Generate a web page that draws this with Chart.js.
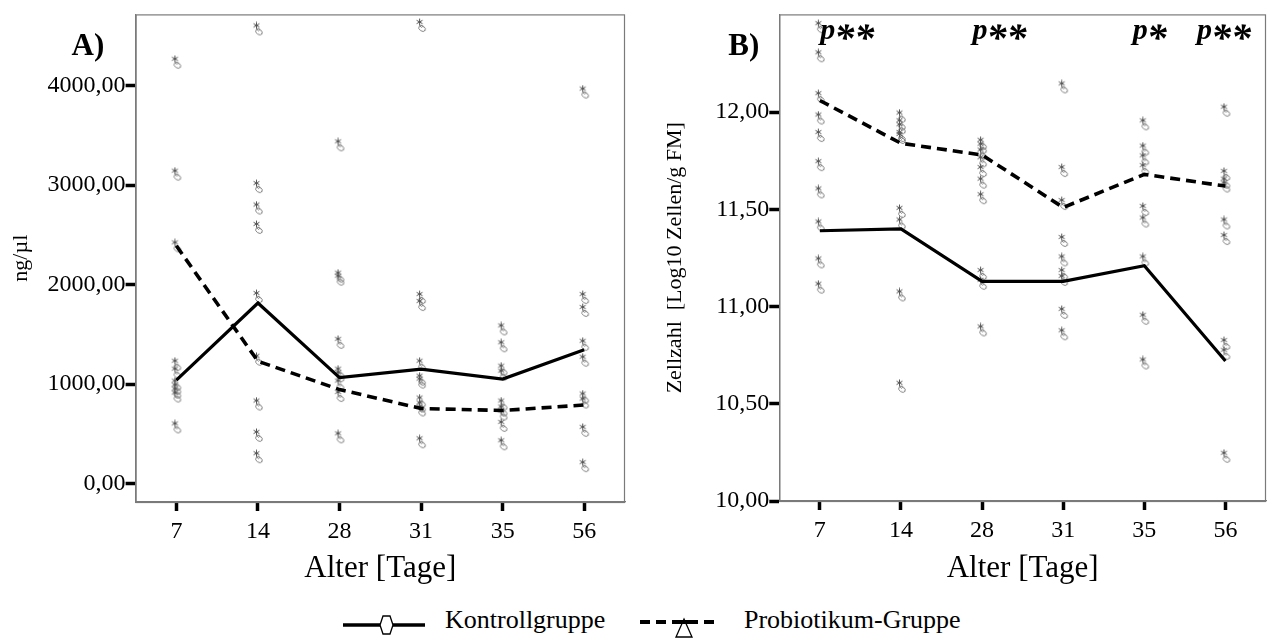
<!DOCTYPE html>
<html><head><meta charset="utf-8">
<script src="https://cdn.jsdelivr.net/npm/chart.js@4.4.1/dist/chart.umd.min.js"></script>
<style>
html,body{margin:0;padding:0;background:#fff;width:1273px;height:639px;overflow:hidden;font-family:'Liberation Serif','Times New Roman',serif;}
#ca{position:absolute;left:0;top:0;}
#cb{position:absolute;left:636px;top:0;}
#legend{position:absolute;left:0;top:600px;width:1273px;height:39px;}
#legend svg{position:absolute;left:0;top:0;}
.lt{position:absolute;top:0;font-size:26px;line-height:39px;color:#000;white-space:nowrap;}
</style></head><body>
<canvas id="ca" width="636" height="600"></canvas>
<canvas id="cb" width="637" height="600"></canvas>
<div id="legend">
<svg width="1273" height="39">
  <line x1="343" y1="25" x2="425" y2="25" stroke="#000" stroke-width="3.5"/>
  <polygon points="383,16 390,16 393,25 390,34 383,34 380,25" fill="#fff" stroke="#000" stroke-width="1.3"/>
  <line x1="640" y1="22" x2="717" y2="22" stroke="#000" stroke-width="4" stroke-dasharray="10,6"/>
  <polygon points="684,19 692,37 676,37" fill="#fff" stroke="#000" stroke-width="1.3"/>
  <line x1="677" y1="22" x2="691" y2="22" stroke="#000" stroke-width="4"/>
</svg>
<span class="lt" style="left:445px">Kontrollgruppe</span>
<span class="lt" style="left:744px">Probiotikum-Gruppe</span>
</div>
<script>
// ---------- data ----------
const categories = ['7', '14', '28', '31', '35', '56'];

// Panel A: ng/µl
const dnaKontroll = [1040, 1815, 1065, 1150, 1050, 1345];
const dnaProbiotikum = [2390, 1230, 945, 755, 735, 790];
const dnaEinzelwerte = [
  [4235, 3110, 2390, 1200, 1120, 1000, 960, 920, 880, 570],
  [4570, 2985, 2770, 2575, 1880, 1250, 800, 485, 270],
  [3405, 2085, 2055, 1420, 1120, 1085, 1000, 885, 470],
  [4605, 1870, 1800, 1200, 1050, 1020, 830, 780, 740, 420],
  [1555, 1385, 1150, 1100, 800, 740, 700, 585, 400],
  [3935, 1870, 1740, 1400, 1240, 870, 820, 535, 180]
];
const dnaTicks = [0, 1000, 2000, 3000, 4000];

// Panel B: Zellzahl [Log10 Zellen/g FM]
const cellKontroll = [11.39, 11.40, 11.13, 11.13, 11.21, 10.72];
const cellProbiotikum = [12.06, 11.84, 11.78, 11.51, 11.68, 11.62];
const cellEinzelwerte = [
  [12.44, 12.29, 12.08, 11.97, 11.88, 11.73, 11.59, 11.42, 11.23, 11.10],
  [11.98, 11.94, 11.92, 11.88, 11.87, 11.49, 11.43, 11.06, 10.59],
  [11.84, 11.82, 11.79, 11.75, 11.70, 11.64, 11.56, 11.17, 11.12, 10.88],
  [12.13, 11.70, 11.53, 11.34, 11.24, 11.17, 11.14, 10.97, 10.86],
  [11.94, 11.81, 11.76, 11.71, 11.50, 11.44, 11.24, 10.94, 10.71],
  [12.01, 11.68, 11.64, 11.62, 11.43, 11.35, 10.81, 10.76, 10.23]
];
const cellTicks = [10, 10.5, 11, 11.5, 12];
const sigLabels = ['p**', '', 'p**', '', 'p*', 'p**'];
const sigOffsets = [28, 0, 18, 0, 6, -1];

// ---------- helpers ----------
const FONT = "'Liberation Serif','Times New Roman',serif";
Chart.defaults.font.family = FONT;
Chart.defaults.color = '#000';

function makeGlyph() {
  const c = document.createElement('canvas');
  c.width = 12; c.height = 15;
  const g = c.getContext('2d');
  g.lineCap = 'round';
  g.strokeStyle = '#555'; g.lineWidth = 1;
  const cx = 4.5, cy = 4, r = 3;
  for (let i = 0; i < 3; i++) {
    const a = Math.PI / 2 + i * Math.PI / 3;
    g.beginPath();
    g.moveTo(cx - r * Math.cos(a), cy - r * Math.sin(a));
    g.lineTo(cx + r * Math.cos(a), cy + r * Math.sin(a));
    g.stroke();
  }
  g.strokeStyle = '#777'; g.lineWidth = 0.9;
  g.beginPath();
  g.ellipse(7, 10.5, 3.6, 2.6, 0.6, 0, Math.PI * 2);
  g.stroke();
  g.beginPath();
  g.moveTo(4.5, 7.5); g.lineTo(6.5, 9.5);
  g.moveTo(6.5, 7); g.lineTo(8, 9);
  g.stroke();
  return c;
}
const glyph = makeGlyph();

function toPoints(lists) {
  const pts = [];
  lists.forEach((vals, i) => vals.forEach(v => pts.push({x: categories[i], y: v})));
  return pts;
}
const fmt = v => Number(v).toFixed(2).replace('.', ',');

const framePlugin = {
  id: 'frame',
  afterDraw(chart, args, opts) {
    const {ctx, chartArea: a} = chart;
    ctx.save();
    ctx.strokeStyle = '#7a7a7a';
    ctx.lineWidth = 1.2;
    ctx.strokeRect(a.left + 0.5, a.top + 0.5, a.right - a.left - 1, a.bottom - a.top);
    ctx.fillStyle = '#000';
    ctx.textBaseline = 'alphabetic';
    ctx.textAlign = 'left';
    ctx.font = 'bold 31px ' + FONT;
    ctx.fillText(opts.panel, a.left + opts.panelDx, a.top + 41);
    if (opts.sig) {
      const xs = chart.scales.x;
      const pFont = 'italic bold 30px ' + FONT;
      const sFont = 'italic bold 40px ' + FONT;
      opts.sig.forEach((t, i) => {
        if (!t) return;
        const stars = t.slice(1);
        ctx.font = pFont;
        const wp = ctx.measureText('p').width;
        ctx.font = sFont;
        const ws = ctx.measureText(stars).width;
        const x0 = xs.getPixelForValue(i) + opts.sigDx[i] - (wp + ws) / 2;
        ctx.font = pFont;
        ctx.fillText('p', x0, a.top + 25);
        ctx.font = sFont;
        ctx.fillText(stars, x0 + wp - 1, a.top + 37);
      });
    }
    ctx.restore();
  }
};

function buildChart(id, cfg) {
  return new Chart(document.getElementById(id), {
    type: 'line',
    data: {
      labels: categories,
      datasets: [
        {label: 'Kontrollgruppe', data: cfg.kontroll, borderColor: '#000', borderWidth: 3.2,
         pointRadius: 0, tension: 0, fill: false, order: 1},
        {label: 'Probiotikum-Gruppe', data: cfg.probiotikum, borderColor: '#000', borderWidth: 3.6,
         borderDash: [10, 6], pointRadius: 0, tension: 0, fill: false, order: 2},
        {label: 'Einzelwerte', data: toPoints(cfg.points), showLine: false, pointStyle: glyph,
         pointRadius: 6, order: 3}
      ]
    },
    options: {
      responsive: false,
      animation: false,
      devicePixelRatio: 1,
      layout: {padding: {top: 12, right: cfg.padRight, bottom: 0, left: 0}},
      plugins: {
        legend: {display: false},
        tooltip: {enabled: false},
        frame: {panel: cfg.panel, panelDx: cfg.panelDx, sig: cfg.sig, sigDx: sigOffsets}
      },
      scales: {
        x: {
          type: 'category', offset: true,
          grid: {offset: false, drawOnChartArea: false, drawTicks: true, tickLength: 9, tickWidth: 3.5, tickColor: '#000'},
          border: {display: true, color: '#7a7a7a', width: 1.2},
          ticks: {font: {size: 24}, color: '#000', padding: 6, maxRotation: 0, autoSkip: false},
          title: {display: true, text: 'Alter [Tage]', font: {size: 31}, color: '#000', padding: {top: 0, bottom: 13}},
          afterFit(s) { s.height = cfg.xHeight; }
        },
        y: {
          min: cfg.min, max: cfg.max,
          grid: {drawOnChartArea: false, drawTicks: true, tickLength: 10, tickWidth: 3.5, tickColor: '#000'},
          border: {display: true, color: '#7a7a7a', width: 1.2},
          afterBuildTicks(s) { s.ticks = cfg.ticks.map(v => ({value: v})); },
          ticks: {font: {size: 24}, color: '#000', padding: 0, callback: v => fmt(v)},
          title: {display: true, text: cfg.yTitle, font: {size: 22}, color: '#000', padding: {top: cfg.yTitlePad, bottom: 0}},
          afterFit(s) { s.width = cfg.yWidth; }
        }
      }
    },
    plugins: [framePlugin]
  });
}

buildChart('ca', {
  kontroll: dnaKontroll, probiotikum: dnaProbiotikum, points: dnaEinzelwerte,
  min: -185, max: 4716, ticks: dnaTicks, yTitle: 'ng/µl', yTitlePad: 8, yWidth: 135.6,
  padRight: 11, xHeight: 98, panel: 'A)', panelDx: -64, sig: null
});
buildChart('cb', {
  kontroll: cellKontroll, probiotikum: cellProbiotikum, points: cellEinzelwerte,
  min: 10, max: 12.503, ticks: cellTicks, yTitle: 'Zellzahl  [Log10 Zellen/g FM]', yTitlePad: 26, yWidth: 143.3,
  padRight: 0.5, xHeight: 99, panel: 'B)', panelDx: -51, sig: sigLabels
});
</script>
</body></html>
